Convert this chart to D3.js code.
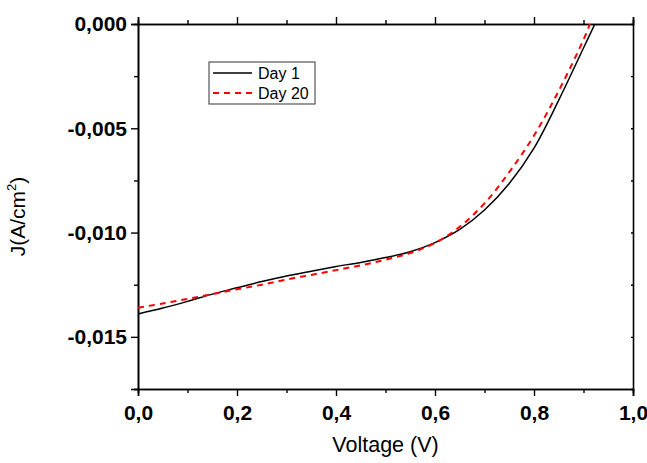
<!DOCTYPE html>
<html>
<head>
<meta charset="utf-8">
<script src="https://cdn.jsdelivr.net/npm/d3@7"></script>
<style>
  body { margin: 0; background: #fff; }
  svg { font-family: "Liberation Sans", Arial, sans-serif; }
</style>
</head>
<body>
<div id="chart"></div>
<script>
  // data
  var voltage1 = [0, 0.05, 0.1, 0.15, 0.2, 0.25, 0.3, 0.35, 0.4, 0.45, 0.5, 0.55, 0.6, 0.65, 0.7, 0.75, 0.8, 0.85, 0.9, 0.923];
  var day1 = [-0.01390, -0.01362, -0.01330, -0.01295, -0.01265, -0.01235, -0.01208, -0.01185, -0.01163, -0.01143,
              -0.01120, -0.01092, -0.01048, -0.00985, -0.00892, -0.00765, -0.00595, -0.00365, -0.00115, 0];
  var voltage20 = [0, 0.05, 0.1, 0.15, 0.2, 0.25, 0.3, 0.35, 0.4, 0.45, 0.5, 0.55, 0.6, 0.65, 0.7, 0.75, 0.8, 0.85, 0.9, 0.913];
  var day20 = [-0.01360, -0.01340, -0.01318, -0.01295, -0.01272, -0.01250, -0.01225, -0.01203, -0.01180, -0.01157,
               -0.01130, -0.01098, -0.01050, -0.00972, -0.00860, -0.00710, -0.00535, -0.00320, -0.00075, 0];
  var xTicks = [0, 0.2, 0.4, 0.6, 0.8, 1.0];
  var xMinor = [0.1, 0.3, 0.5, 0.7, 0.9];
  var yTicks = [0, -0.005, -0.010, -0.015];
  var yMinor = [-0.0025, -0.0075, -0.0125, -0.0175];
  var seriesNames = ["Day 1", "Day 20"];

  var width = 647, height = 463;
  var margin = {top: 24, right: 14, bottom: 74, left: 138};
  var w = width - margin.left - margin.right,
      h = height - margin.top - margin.bottom;

  var locale = d3.formatLocale({decimal: ",", thousands: ".", grouping: [3], currency: ["", ""], minus: "-"});
  var fx = locale.format(".1f"), fy = locale.format(".3f");

  var x = d3.scaleLinear().domain([0, 1]).range([0, w]);
  var y = d3.scaleLinear().domain([-0.0175, 0]).range([h, 0]);

  var svg = d3.select("#chart")
    .append("svg")
    .attr("width", width)
    .attr("height", height)
    .append("g")
    .attr("transform", "translate(" + margin.left + "," + margin.top + ")");

  function styleAxis(g) {
    g.select(".domain").attr("stroke", "#000").attr("stroke-width", 1.6);
    g.selectAll(".tick line").attr("stroke", "#000").attr("stroke-width", 1.4);
  }

  // minor ticks
  svg.append("g").attr("transform", "translate(0," + h + ")")
    .call(d3.axisBottom(x).tickValues(xMinor).tickSize(4).tickFormat(""))
    .call(styleAxis);
  svg.append("g")
    .call(d3.axisTop(x).tickValues(xMinor).tickSize(4).tickFormat(""))
    .call(styleAxis);
  svg.append("g")
    .call(d3.axisLeft(y).tickValues(yMinor).tickSize(4).tickFormat(""))
    .call(styleAxis);
  svg.append("g").attr("transform", "translate(" + w + ",0)")
    .call(d3.axisLeft(y).tickValues(yMinor.concat(yTicks)).tickSize(2).tickSizeOuter(0).tickFormat(""))
    .call(styleAxis);

  // major ticks
  svg.append("g").attr("transform", "translate(0," + h + ")")
    .call(d3.axisBottom(x).tickValues(xTicks).tickSize(7).tickPadding(9).tickFormat(fx))
    .call(styleAxis);
  svg.append("g")
    .call(d3.axisTop(x).tickValues(xTicks).tickSize(7).tickFormat(""))
    .call(styleAxis);
  svg.append("g")
    .call(d3.axisLeft(y).tickValues(yTicks).tickSize(7).tickPadding(4).tickFormat(fy))
    .call(styleAxis);

  svg.selectAll(".tick text")
    .attr("fill", "#000")
    .style("font-family", "'Liberation Sans', Arial, sans-serif")
    .style("font-size", "21px")
    .style("font-weight", "bold");

  // axis titles
  svg.append("text")
    .attr("x", w / 2)
    .attr("y", h + 63)
    .attr("text-anchor", "middle")
    .style("font-size", "21.5px")
    .text("Voltage (V)");

  var yt = svg.append("text")
    .attr("transform", "translate(" + (-113) + "," + (h / 2 + 10) + ") rotate(-90)")
    .attr("text-anchor", "middle")
    .style("font-size", "21px");
  yt.append("tspan").text("J(A/cm");
  yt.append("tspan").attr("dy", -9).style("font-size", "13px").text("2");
  yt.append("tspan").attr("dy", 9).text(")");

  // curves
  var line = d3.line()
    .x(function(d) { return x(d[0]); })
    .y(function(d) { return y(d[1]); })
    .curve(d3.curveCatmullRom.alpha(0.5));

  svg.append("path")
    .datum(d3.zip(voltage1, day1))
    .attr("fill", "none")
    .attr("stroke", "#000")
    .attr("stroke-width", 1.5)
    .attr("d", line);

  svg.append("path")
    .datum(d3.zip(voltage20, day20))
    .attr("fill", "none")
    .attr("stroke", "#ff0000")
    .attr("stroke-width", 2)
    .attr("stroke-dasharray", "6,5")
    .attr("d", line);

  // legend
  var lg = svg.append("g").attr("transform", "translate(" + (209 - margin.left) + "," + (62 - margin.top) + ")");
  lg.append("rect")
    .attr("width", 106).attr("height", 42)
    .attr("fill", "#fff").attr("stroke", "#333").attr("stroke-width", 1);
  lg.append("line").attr("x1", 4).attr("x2", 43).attr("y1", 11).attr("y2", 11)
    .attr("stroke", "#000").attr("stroke-width", 1.5);
  lg.append("line").attr("x1", 4).attr("x2", 43).attr("y1", 31).attr("y2", 31)
    .attr("stroke", "#ff0000").attr("stroke-width", 2).attr("stroke-dasharray", "6,5");
  lg.selectAll("text.leg")
    .data(seriesNames)
    .enter()
    .append("text")
    .attr("class", "leg")
    .attr("x", 49)
    .attr("y", function(d, i) { return 17 + i * 20; })
    .style("font-size", "16px")
    .text(function(d) { return d; });
</script>
</body>
</html>
